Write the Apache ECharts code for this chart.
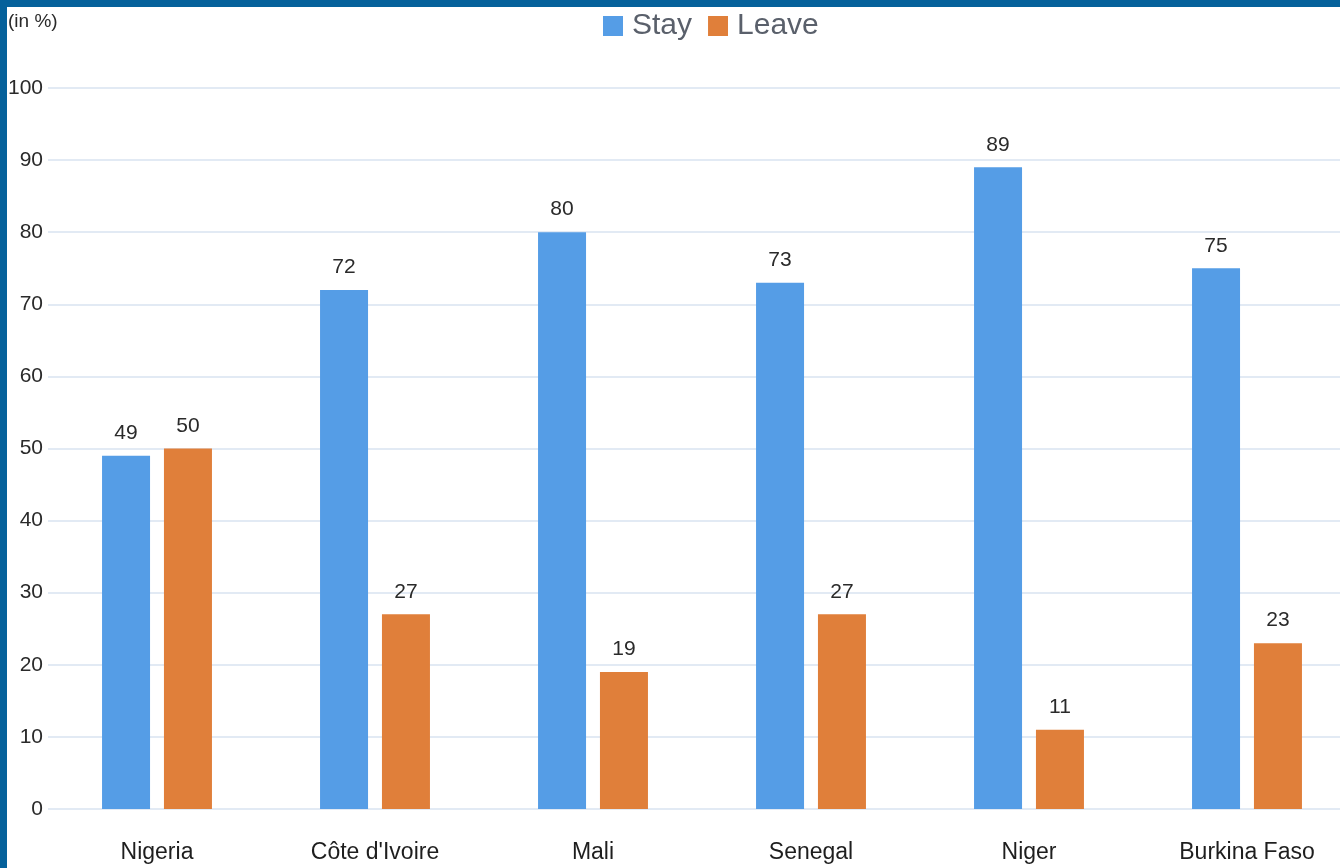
<!DOCTYPE html>
<html>
<head>
<meta charset="utf-8">
<script src="https://cdn.jsdelivr.net/npm/echarts@6/dist/echarts.min.js"></script>
<style>
  html, body { margin: 0; padding: 0; background: #fff; overflow: hidden; }
  #wrap { width: 1340px; height: 868px; overflow: hidden; position: relative; }
  #chart { width: 1356px; height: 868px; }
</style>
</head>
<body>
<div id="wrap"><div id="chart"></div></div>
<script>
// Share of respondents who would stay or leave, by country
const countries = ['Nigeria', "Côte d'Ivoire", 'Mali', 'Senegal', 'Niger', 'Burkina Faso'];
const stayValues = [49, 72, 80, 73, 89, 75];
const leaveValues = [50, 27, 19, 27, 11, 23];
const yTicks = [0, 10, 20, 30, 40, 50, 60, 70, 80, 90, 100];

const FONT = '"Liberation Sans", "Helvetica Neue", Arial, sans-serif';
const chart = echarts.init(document.getElementById('chart'), null, { renderer: 'canvas' });

const labelStyle = {
  show: true,
  position: 'top',
  distance: 12,
  color: '#2a2a2a',
  fontSize: 21,
  fontFamily: FONT
};

chart.setOption({
  animation: false,
  backgroundColor: '#ffffff',
  textStyle: { fontFamily: FONT },
  graphic: [
    { type: 'rect', left: 0, top: 0, shape: { width: 1356, height: 7 }, style: { fill: '#05619b' }, z: 100 },
    { type: 'rect', left: 0, top: 0, shape: { width: 7, height: 868 }, style: { fill: '#05619b' }, z: 100 },
    { type: 'text', left: 8, top: 12, style: { text: '(in %)', fontSize: 19, fill: '#2a2a2a', fontFamily: FONT } }
  ],
  legend: {
    top: 6,
    left: 598,
    itemWidth: 20,
    itemHeight: 20,
    itemGap: 16,
    icon: 'rect',
    textStyle: { fontSize: 30, color: '#5a606b', fontFamily: FONT, padding: [0, 0, 0, 4] },
    data: ['Stay', 'Leave']
  },
  // the plot runs slightly past the visible right edge
  grid: { left: 48, right: 0, top: 88, bottom: 59, containLabel: false },
  xAxis: {
    type: 'category',
    data: countries,
    axisLine: { show: false },
    axisTick: { show: false },
    axisLabel: { color: '#1e1e1e', fontSize: 23, margin: 32, fontFamily: FONT }
  },
  yAxis: {
    type: 'value',
    min: yTicks[0],
    max: yTicks[yTicks.length - 1],
    interval: 10,
    axisLine: { show: false },
    axisTick: { show: false },
    splitLine: { lineStyle: { color: '#d9e3f0', width: 1.5 } },
    axisLabel: { color: '#2a2a2a', fontSize: 21, margin: 5, fontFamily: FONT }
  },
  series: [
    {
      name: 'Stay',
      type: 'bar',
      data: stayValues,
      barWidth: 48,
      barGap: '29%',
      itemStyle: { color: '#559de6' },
      label: labelStyle
    },
    {
      name: 'Leave',
      type: 'bar',
      data: leaveValues,
      barWidth: 48,
      itemStyle: { color: '#e07f3a' },
      label: labelStyle
    }
  ]
});
</script>
</body>
</html>
